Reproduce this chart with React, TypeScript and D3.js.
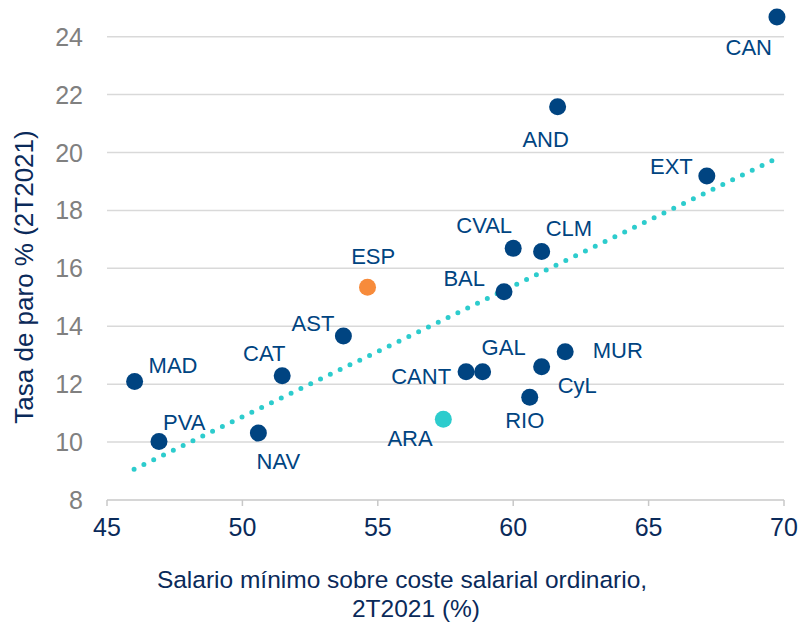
import React from "react";
import * as d3 from "d3";

const regions = ["CAN", "AND", "EXT", "CVAL", "CLM", "BAL", "GAL", "CANT", "CyL", "MUR", "RIO", "ARA", "ESP", "AST", "CAT", "MAD", "PVA", "NAV"];
const salario = [69.74, 61.64, 67.15, 60.0, 61.05, 59.66, 58.87, 58.26, 61.05, 61.92, 60.61, 57.42, 54.62, 53.73, 51.47, 46.02, 46.92, 50.59];
const paro = [24.68, 21.58, 19.19, 16.69, 16.58, 15.19, 12.43, 12.43, 12.6, 13.12, 11.55, 10.79, 15.35, 13.66, 12.29, 12.09, 10.02, 10.31];
const kinds = ["r", "r", "r", "r", "r", "r", "r", "r", "r", "r", "r", "a", "e", "r", "r", "r", "r", "r"];

const trendX = [46.0, 69.65];
const trendY = [9.06, 19.76];

const xTicks = [45, 50, 55, 60, 65, 70];
const yTicks = [8, 10, 12, 14, 16, 18, 20, 22, 24];

// label placement: [dx, dy, anchor]
const labelPlace: Record<string, [number, number, string]> = {
  CAN: [-5, 38, "end"],
  AND: [-12, 40, "middle"],
  EXT: [-14, -2, "end"],
  CVAL: [-29, -15, "middle"],
  CLM: [4, -16, "start"],
  BAL: [-19, -6, "end"],
  GAL: [-1, -17, "start"],
  CANT: [-15, 12, "end"],
  CyL: [16, 26, "start"],
  MUR: [27.6, 6.6, "start"],
  RIO: [-5, 31, "middle"],
  ARA: [-10.7, 26.7, "end"],
  ESP: [5.7, -23.4, "middle"],
  AST: [-9, -5, "end"],
  CAT: [-18, -15, "middle"],
  MAD: [14, -9, "start"],
  PVA: [4, -12, "start"],
  NAV: [20, 36, "middle"],
};

const colors: Record<string, string> = { r: "#004481", a: "#2dcccd", e: "#f78b3b" };

export default function App() {
  const W = 803, H = 624;
  const x = d3.scaleLinear().domain([45, 70]).range([107, 784]);
  const y = d3.scaleLinear().domain([8, 24]).range([500, 36.7]);
  const font = "'Liberation Sans', Arial, sans-serif";
  const line = d3.line<number>().x((_, i) => x(trendX[i])).y((d) => y(d));

  return (
    <svg width={W} height={H} style={{ position: "absolute", left: 0, top: 0, background: "#fff" }} fontFamily={font}>
      {yTicks.slice(1).map((t) => (
        <line key={t} x1={x(45)} x2={x(70)} y1={y(t)} y2={y(t)} stroke="#d9d9d9" strokeWidth={1.5} />
      ))}
      <line x1={x(45)} x2={x(70)} y1={y(8)} y2={y(8)} stroke="#c8c8c8" strokeWidth={1.5} />
      {xTicks.map((t) => (
        <line key={t} x1={x(t)} x2={x(t)} y1={y(8)} y2={y(8) + 6} stroke="#c8c8c8" strokeWidth={1.5} />
      ))}
      {yTicks.map((t) => (
        <text key={t} x={83} y={y(t)} dy="0.36em" textAnchor="end" fontSize={25} fill="#808080">{t}</text>
      ))}
      {xTicks.map((t) => (
        <text key={t} x={x(t)} y={536} textAnchor="middle" fontSize={25} fill="#0a2a5a">{t}</text>
      ))}
      <path d={line(trendY) || ""} fill="none" stroke="#2dcccd" strokeWidth={5} strokeLinecap="round" strokeDasharray="0 10.9" />
      {regions.map((r, i) => (
        <circle key={r} cx={x(salario[i])} cy={y(paro[i])} r={8.5} fill={colors[kinds[i]]} />
      ))}
      {regions.map((r, i) => {
        const [dx, dy, anchor] = labelPlace[r];
        return (
          <text key={r} x={x(salario[i]) + dx} y={y(paro[i]) + dy} textAnchor={anchor as any} fontSize={22} fill="#004481">{r}</text>
        );
      })}
      <text transform="translate(33,277) rotate(-90)" textAnchor="middle" fontSize={26} fill="#0a2a5a">Tasa de paro % (2T2021)</text>
      <text x={402} y={588} textAnchor="middle" fontSize={24.5} fill="#0a2a5a">Salario mínimo  sobre coste salarial ordinario,</text>
      <text x={416} y={617} textAnchor="middle" fontSize={24.5} fill="#0a2a5a">2T2021  (%)</text>
    </svg>
  );
}
